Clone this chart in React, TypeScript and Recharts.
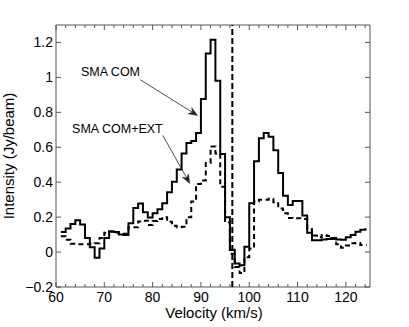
import React from 'react';
import { LineChart, Line, XAxis, YAxis, ReferenceLine, ReferenceArea } from 'recharts';

// channel velocities (left edge of each channel, km/s)
const velocity = [
  61, 62, 63, 64, 65, 66, 67, 68, 69, 70,
  71, 72, 73, 74, 75, 76, 77, 78, 79, 80,
  81, 82, 83, 84, 85, 86, 87, 88, 89, 90,
  91, 92, 93, 94, 95, 96, 97, 98, 99, 100,
  101, 102, 103, 104, 105, 106, 107, 108, 109, 110,
  111, 112, 113, 114, 115, 116, 117, 118, 119, 120,
  121, 122, 123, 124, 124.3,
];

// SMA COM spectrum (Jy/beam)
const smaCom = [
  0.115, 0.135, 0.16, 0.182, 0.158, 0.08, 0.028, -0.032, 0.02, 0.08,
  0.118, 0.115, 0.1, 0.098, 0.165, 0.252, 0.278, 0.228, 0.198, 0.222,
  0.245, 0.279, 0.342, 0.402, 0.473, 0.564, 0.624, 0.636, 0.681, 0.877,
  1.137, 1.215, 0.981, 0.562, 0.2, 0.013, -0.065, -0.075, 0.03, 0.279,
  0.52, 0.652, 0.681, 0.66, 0.583, 0.453, 0.322, 0.269, 0.292, 0.292,
  0.21, 0.11, 0.068, 0.068, 0.072, 0.075, 0.08, 0.072, 0.07, 0.085,
  0.098, 0.117, 0.128, 0.131, 0.131,
];

// SMA COM+EXT spectrum (Jy/beam)
const smaComExt = [
  0.09, 0.07, 0.047, 0.045, 0.045, 0.045, 0.048, 0.05, 0.08, 0.11,
  0.118, 0.112, 0.105, 0.105, 0.142, 0.142, 0.175, 0.18, 0.155, 0.178,
  0.19, 0.2, 0.174, 0.15, 0.142, 0.145, 0.2, 0.29, 0.39, 0.41,
  0.51, 0.605, 0.565, 0.374, 0.17, -0.01, -0.085, -0.12, -0.03, 0.02,
  0.29, 0.3, 0.3, 0.305, 0.285, 0.25, 0.222, 0.195, 0.193, 0.193,
  0.19, 0.13, 0.095, 0.085, 0.098, 0.092, 0.075, 0.045, 0.025, 0.038,
  0.05, 0.052, 0.04, 0.04, 0.04,
];

const xTicks = [
  60, 62, 64, 66, 68, 70, 72, 74, 76, 78, 80, 82, 84, 86, 88, 90, 92, 94, 96, 98,
  100, 102, 104, 106, 108, 110, 112, 114, 116, 118, 120, 122, 124,
];
const xLabelTicks = [60, 70, 80, 90, 100, 110, 120];
const yTicks = [-0.2, 0, 0.2, 0.4, 0.6, 0.8, 1, 1.2];
const systemicVelocity = 96.5;

// annotations: [label, start velocity, start intensity, tip velocity, tip intensity]
const annoLabels = ['SMA COM', 'SMA COM+EXT'];
const annoStart = [
  [77.4, 0.987],
  [82.1, 0.668],
];
const annoTip = [
  [89.3, 0.782],
  [87.7, 0.393],
];

const data = velocity.map((v, i) => ({ v, com: smaCom[i], ext: smaComExt[i] }));

const W = 409;
const H = 327;
const PLOT = { left: 56, right: 370, top: 25, bottom: 287 };
const FONT = '"Liberation Sans", Arial, Helvetica, sans-serif';
const AXIS_COLOR = '#555';

const XTick = (props: any) => {
  const { x, payload } = props;
  const v = payload.value;
  const major = xLabelTicks.indexOf(v) >= 0;
  const len = major ? 5 : 3;
  return (
    <g>
      <line x1={x} x2={x} y1={PLOT.bottom} y2={PLOT.bottom - len} stroke={AXIS_COLOR} strokeWidth={1} />
      <line x1={x} x2={x} y1={PLOT.top} y2={PLOT.top + len} stroke={AXIS_COLOR} strokeWidth={1} />
      {major && (
        <text x={x} y={301.5} textAnchor="middle" fontSize={14} fontFamily={FONT} fill="#000">
          {v}
        </text>
      )}
    </g>
  );
};

const fmtY = (v: number) => (v === 0 ? '0' : v < 0 ? '\u2212' + String(-v) : String(v));

const YTick = (props: any) => {
  const { y, payload } = props;
  const v = payload.value;
  return (
    <g>
      <line x1={PLOT.left} x2={PLOT.left + 5} y1={y} y2={y} stroke={AXIS_COLOR} strokeWidth={1} />
      <line x1={PLOT.right - 5} x2={PLOT.right} y1={y} y2={y} stroke={AXIS_COLOR} strokeWidth={1} />
      <text x={PLOT.left - 3} y={y} dy={5} textAnchor="end" fontSize={14} fontFamily={FONT} fill="#000">
        {fmtY(v)}
      </text>
    </g>
  );
};

const makeArrow = (label: string, textDy: number) => (props: any) => {
  const { x1, y1, x2, y2 } = props;
  const dx = x2 - x1;
  const dy = y2 - y1;
  const len = Math.sqrt(dx * dx + dy * dy) || 1;
  const ux = dx / len;
  const uy = dy / len;
  const nx = -uy;
  const ny = ux;
  const L = 9;
  const w = 3.5;
  const bx = x2 - ux * L;
  const by = y2 - uy * L;
  const mx = x2 - ux * L * 0.7;
  const my = y2 - uy * L * 0.7;
  const pts = `${x2},${y2} ${bx + nx * w},${by + ny * w} ${mx},${my} ${bx - nx * w},${by - ny * w}`;
  return (
    <g>
      <line x1={x1} y1={y1} x2={mx} y2={my} stroke="#222" strokeWidth={0.8} />
      <polygon points={pts} fill="#222" stroke="#222" strokeWidth={0.5} />
      <text x={x1} y={y1 + textDy} textAnchor="end" fontSize={12.5} fontFamily={FONT} fill="#000">
        {label}
      </text>
    </g>
  );
};

const XTitle = () => (
  <text x={214} y={318} textAnchor="middle" fontSize={15} fontFamily={FONT} fill="#000">
    Velocity (km/s)
  </text>
);

const YTitle = () => (
  <text
    x={14}
    y={156}
    transform="rotate(-90, 14, 156)"
    textAnchor="middle"
    fontSize={15}
    fontFamily={FONT}
    fill="#000"
  >
    Intensity (Jy/beam)
  </text>
);

export default function App() {
  return (
    <div style={{ position: 'absolute', left: 0, top: 0, width: W, height: H, background: '#fff' }}>
      <LineChart
        width={W}
        height={H}
        data={data}
        margin={{ top: PLOT.top, right: W - PLOT.right, bottom: 0, left: 0 }}
      >
        <XAxis
          dataKey="v"
          type="number"
          domain={[60, 125]}
          ticks={xTicks}
          interval={0}
          allowDataOverflow
          height={H - PLOT.bottom}
          axisLine={false}
          tickLine={false}
          tickSize={0}
          tick={<XTick />}
          label={{ content: () => <XTitle /> }}
        />
        <YAxis
          type="number"
          domain={[-0.2, 1.3]}
          ticks={yTicks}
          interval={0}
          allowDataOverflow
          width={PLOT.left}
          axisLine={false}
          tickLine={false}
          tickSize={0}
          tick={<YTick />}
          label={{ content: () => <YTitle /> }}
        />
        <ReferenceArea
          x1={60}
          x2={125}
          y1={-0.2}
          y2={1.3}
          fill="none"
          fillOpacity={0}
          stroke={AXIS_COLOR}
          strokeWidth={1}
          ifOverflow="visible"
        />
        <ReferenceLine
          x={systemicVelocity}
          stroke="#000"
          strokeWidth={2}
          strokeDasharray="6 3"
        />
        <Line
          type="stepAfter"
          dataKey="ext"
          stroke="#000"
          strokeWidth={2}
          strokeDasharray="5 3.5"
          dot={false}
          activeDot={false}
          isAnimationActive={false}
        />
        <Line
          type="stepAfter"
          dataKey="com"
          stroke="#000"
          strokeWidth={2}
          dot={false}
          activeDot={false}
          isAnimationActive={false}
        />
        {annoLabels.map((lab, i) => (
          <ReferenceLine
            key={lab}
            segment={[
              { x: annoStart[i][0], y: annoStart[i][1] },
              { x: annoTip[i][0], y: annoTip[i][1] },
            ]}
            stroke="#222"
            ifOverflow="visible"
            shape={makeArrow(lab, i === 0 ? -4 : -2)}
          />
        ))}
      </LineChart>
    </div>
  );
}
